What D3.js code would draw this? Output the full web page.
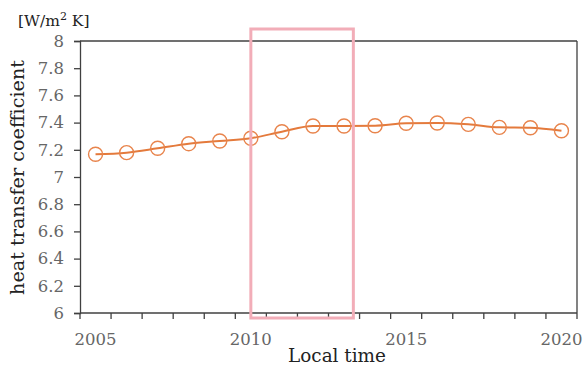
<!DOCTYPE html>
<html><head><meta charset="utf-8">
<script src="https://cdn.jsdelivr.net/npm/d3@7"></script>
<style>body{margin:0;background:#fff}</style>
</head><body>
<svg id="c" width="583" height="365"></svg>
<script>
const years = [2005,2006,2007,2008,2009,2010,2011,2012,2013,2014,2015,2016,2017,2018,2019,2020];
const values = [7.167,7.179,7.211,7.245,7.265,7.285,7.333,7.375,7.375,7.377,7.395,7.397,7.387,7.365,7.362,7.34];
const yTicks = [6,6.2,6.4,6.6,6.8,7,7.2,7.4,7.6,7.8,8];
const xLabelYears = [2005,2010,2015,2020];
const highlightYears = [2010, 2013.3]; // rectangle spans these year positions

const svg = d3.select("#c");
const m = {l:80, r:577, t:41, b:313};
const x = d3.scaleBand().domain(years).range([m.l, m.r]).padding(0);
const xc = d3.scaleLinear().domain([years[0], years[years.length-1]])
  .range([x(years[0]) + x.bandwidth()/2, x(years[years.length-1]) + x.bandwidth()/2]);
const y = d3.scaleLinear().domain([6,8]).range([m.b, m.t]);
const font = "'DejaVu Serif', serif";
const axisCol = "#404040";

// frame top & right
svg.append("line").attr("x1",m.l).attr("x2",m.r).attr("y1",m.t).attr("y2",m.t).attr("stroke",axisCol).attr("stroke-width",1.3);
svg.append("line").attr("x1",m.r).attr("x2",m.r).attr("y1",m.t).attr("y2",m.b).attr("stroke",axisCol).attr("stroke-width",1.3);

// y axis
const ya = svg.append("g").attr("transform",`translate(${m.l},0)`)
  .call(d3.axisLeft(y).tickValues(yTicks).tickFormat(d3.format("~g")).tickSizeOuter(0).tickSize(6).tickPadding(10));
ya.select(".domain").attr("stroke",axisCol).attr("stroke-width",1.3);
ya.selectAll(".tick line").attr("stroke",axisCol).attr("stroke-width",1.3);
ya.selectAll("text").attr("font-family",font).attr("font-size","16.5px").attr("fill","#666");

// x axis: ticks at category boundaries
const xa = svg.append("g").attr("transform",`translate(0,${m.b})`);
xa.append("line").attr("x1",m.l).attr("x2",m.r).attr("stroke",axisCol).attr("stroke-width",1.3);
const bounds = years.map(d=>x(d)).concat([x(years[years.length-1])+x.bandwidth()]);
xa.selectAll("line.tk").data(bounds).join("line").attr("class","tk")
  .attr("x1",d=>d).attr("x2",d=>d).attr("y1",0).attr("y2",6).attr("stroke",axisCol).attr("stroke-width",1.3);
xa.selectAll("text").data(xLabelYears).join("text")
  .attr("x",d=>xc(d)).attr("y",32).attr("text-anchor","middle")
  .attr("font-family",font).attr("font-size","16.5px").attr("fill","#666").text(d=>d);

// line
const line = d3.line().x((d,i)=>xc(years[i])).y(d=>y(d)).curve(d3.curveMonotoneX);
svg.append("path").datum(values).attr("d",line).attr("fill","none").attr("stroke","#e47a3c").attr("stroke-width",2);
svg.selectAll("circle.pt").data(values).join("circle").attr("class","pt")
  .attr("cx",(d,i)=>xc(years[i])).attr("cy",d=>y(d)).attr("r",7)
  .attr("fill","none").attr("stroke","#e8844c").attr("stroke-width",1.4);

// highlight rectangle
const rx0 = xc(highlightYears[0]), rx1 = xc(highlightYears[1]);
svg.append("rect").attr("x",rx0).attr("y",29).attr("width",rx1-rx0).attr("height",289)
  .attr("fill","none").attr("stroke","#f2adb8").attr("stroke-width",3);

// titles
svg.append("text").attr("transform","translate(24,177.5) rotate(-90)").attr("text-anchor","middle")
  .attr("font-family",font).attr("font-size","19.2px").attr("fill","#222").text("heat transfer coefficient");
svg.append("text").attr("x",337).attr("y",362).attr("text-anchor","middle")
  .attr("font-family",font).attr("font-size","18.4px").attr("fill","#222").text("Local time");
const u = svg.append("text").attr("x",18).attr("y",26).attr("font-family",font).attr("font-size","15.5px").attr("fill","#222");
u.append("tspan").text("[W/m");
u.append("tspan").attr("dy",-6).attr("font-size","11px").text("2");
u.append("tspan").attr("dy",6).text(" K]");
</script>
</body></html>
